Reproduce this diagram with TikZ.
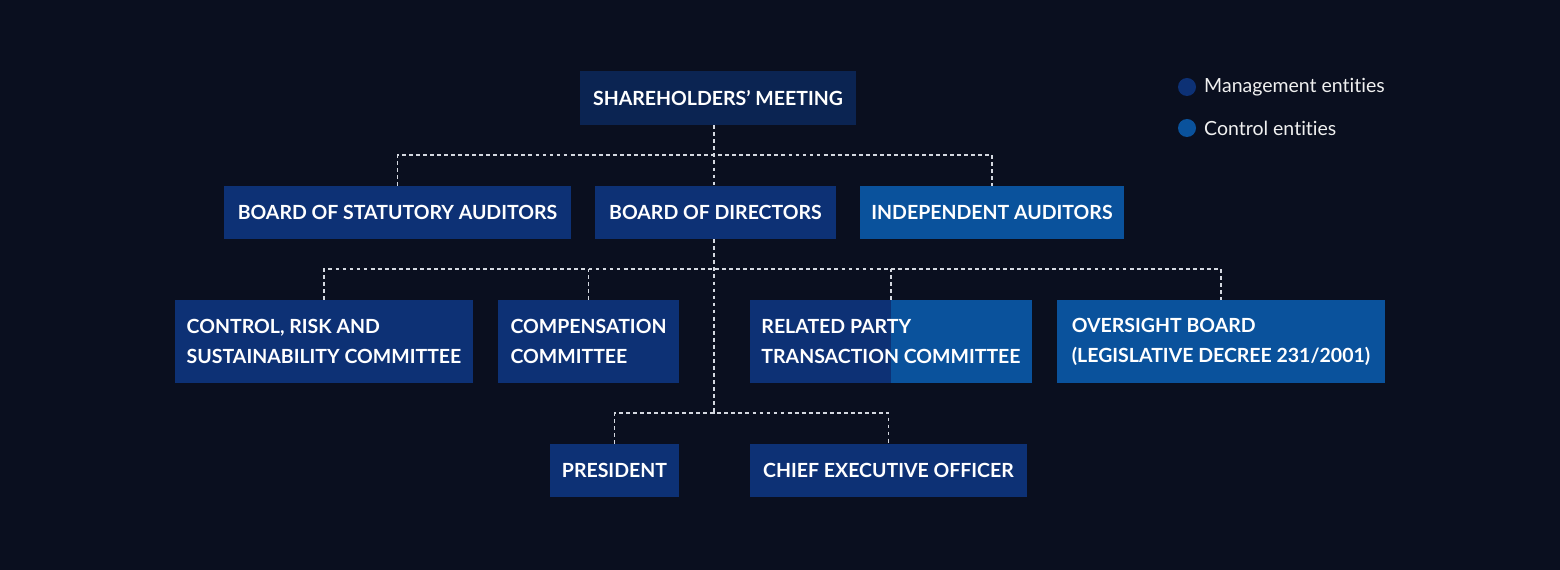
\documentclass[tikz,border=0pt]{standalone}
\usepackage{fontspec}
\setmainfont{Lato}[Ligatures=NoCommon]
\usetikzlibrary{calc}
\definecolor{bgdark}{HTML}{0A0F1F}
\definecolor{topblue}{HTML}{0B2452}
\definecolor{mgmtblue}{HTML}{0D3175}
\definecolor{ctrlblue}{HTML}{0A529C}
\definecolor{linkgray}{HTML}{D4D8E0}
\frenchspacing
\tikzset{
	box/.style={inner sep=0pt, text=white, font=\fontsize{11.1}{17}\selectfont\bfseries},
	mgmt/.style={box, fill=mgmtblue},
	ctrl/.style={box, fill=ctrlblue},
	twoline/.style={align=left, minimum height=1.66cm},
	link/.style={draw=linkgray, line width=0.6pt, dash pattern=on 2.2pt off 1.8pt},
	legend/.style={text=white!94!black, font=\fontsize{11.1}{12}\selectfont, anchor=west}
}
\begin{document}
\begin{tikzpicture}[x=0.02cm, y=-0.02cm]
		%%%%% BACKGROUND %%%%%
		\fill[bgdark] (0, 0) rectangle (1560, 570);
		\useasboundingbox (0, 0) rectangle (1560, 570);
		
		%%%%% TOP %%%%%
		\node[box, fill=topblue, minimum width=5.52cm, minimum height=1.08cm] (sh) at (718, 98) {SHAREHOLDERS’ MEETING};
		
		\node[mgmt, minimum width=6.94cm, minimum height=1.06cm] (bsa) at (397.5, 212.5) {BOARD OF STATUTORY AUDITORS};
		\node[mgmt, minimum width=4.82cm, minimum height=1.06cm] (bod) at (715.5, 212.5) {BOARD OF DIRECTORS};
		\node[ctrl, minimum width=5.28cm, minimum height=1.06cm] (ia) at (992, 212.5) {INDEPENDENT AUDITORS};
		
		%%%%% COMMITTEES %%%%%
		\node[mgmt, twoline, minimum width=5.96cm] (crs) at (324, 341.5) {CONTROL, RISK AND\\SUSTAINABILITY COMMITTEE};
		\node[mgmt, twoline, minimum width=3.62cm] (cc) at (588.5, 341.5) {COMPENSATION\\COMMITTEE};
		\node[ctrl, twoline, minimum width=5.64cm,
			path picture={\fill[mgmtblue] (path picture bounding box.south west) rectangle (path picture bounding box.north);}] (rpt) at (891, 341.5) {RELATED PARTY\\TRANSACTION COMMITTEE};
		\node[ctrl, twoline, minimum width=6.56cm] (ob) at (1221, 341.5) {OVERSIGHT BOARD\\(LEGISLATIVE DECREE 231/2001)};
		
		%%%%% OFFICERS %%%%%
		\node[mgmt, minimum width=2.58cm, minimum height=1.06cm] (pres) at (614.5, 470.5) {PRESIDENT};
		\node[mgmt, minimum width=5.54cm, minimum height=1.06cm] (ceo) at (888.5, 470.5) {CHIEF EXECUTIVE OFFICER};
		
		%%%%% LINKS %%%%%
		\coordinate (j1) at (714, 155);
		\coordinate (j2) at (714, 269);
		\coordinate (j3) at (714, 413);
		
		\draw[link] (sh.south -| j1) -- (bod.north -| j1);
		\draw[link] (bsa.north) |- (j1) -| (ia.north);
		
		\draw[link] (bod.south -| j2) -- (j3);
		\draw[link] (crs.north) |- (j2) -| (ob.north);
		\draw[link] (cc.north) -- (cc.north |- j2);
		\draw[link] (rpt.north) -- (rpt.north |- j2);
		\draw[link] (pres.north) |- (j3) -| (ceo.north);
		
		%%%%% LEGEND %%%%%
		\fill[mgmtblue] (1187, 87) circle[radius=0.18cm];
		\node[legend] (lm) at (1198, 87) {Management entities};
		\fill[ctrlblue] (1187, 128) circle[radius=0.18cm];
		\node[legend] (lc) at (1198, 128) {Control entities};
		
		%%%%% END %%%%%
	\end{tikzpicture}
\end{document}
